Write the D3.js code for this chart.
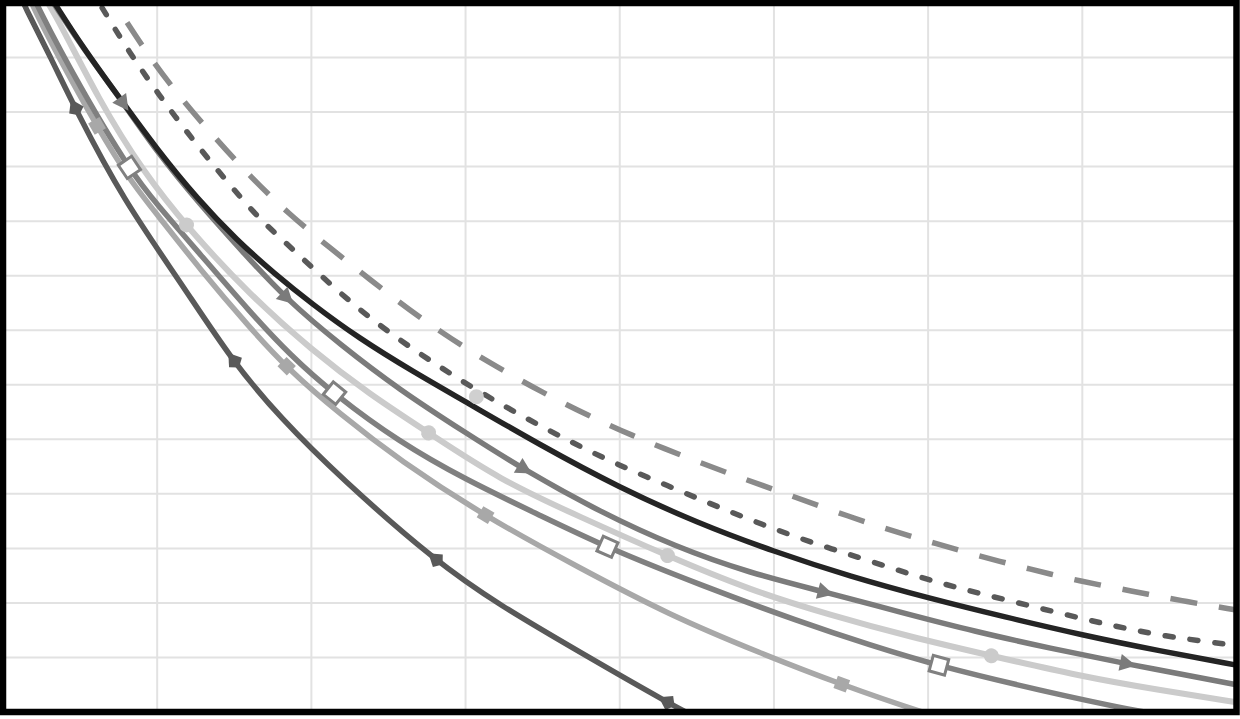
<!DOCTYPE html>
<html>
<head>
<meta charset="utf-8">
<script src="https://cdn.jsdelivr.net/npm/d3@7"></script>
<style>
  html, body { margin: 0; padding: 0; background: #fff; }
  svg { display: block; }
</style>
</head>
<body>
<div id="chart"></div>
<script>
// grid ticks (x: 0..8, y: 0..13)
const xTicks = [0, 1, 2, 3, 4, 5, 6, 7, 8];
const yTicks = [0, 1, 2, 3, 4, 5, 6, 7, 8, 9, 10, 11, 12, 13];

// series values, [x, y]
const longDash = [[0.63,13.39],[0.73,12.97],[0.95,12.0],[1.16,11.23],[1.38,10.51],[1.61,9.80],[1.85,9.14],[2.12,8.51],[2.38,7.93],[2.63,7.38],[2.91,6.83],[3.2,6.33],[3.49,5.87],[3.8,5.43],[4.07,5.08],[4.42,4.68],[4.73,4.35],[5.04,4.04],[5.36,3.71],[5.69,3.39],[6.01,3.12],[6.33,2.86],[6.66,2.62],[6.98,2.40],[7.32,2.22],[7.64,2.04],[8.0,1.87]];
const shortDash = [[0.56,13.30],[0.63,12.97],[0.82,12.09],[1.01,11.32],[1.22,10.53],[1.43,9.80],[1.65,9.08],[1.77,8.77],[2.02,8.11],[2.27,7.47],[2.54,6.88],[2.82,6.35],[3.1,5.85],[3.39,5.39],[3.69,4.94],[3.99,4.53],[4.31,4.15],[4.62,3.78],[4.93,3.43],[5.25,3.10],[5.58,2.81],[5.9,2.51],[6.21,2.26],[6.53,2.04],[6.87,1.80],[7.2,1.58],[7.53,1.39],[7.87,1.27],[8.0,1.21]];
const solidBlack = [[0.24,13.43],[0.34,12.97],[0.52,12.18],[0.74,11.32],[1.0,10.31],[1.26,9.41],[1.52,8.64],[1.76,8.04],[2.0,7.49],[2.31,6.85],[2.66,6.24],[3.0,5.69],[3.48,4.90],[4.0,4.11],[4.5,3.47],[5.0,2.94],[5.5,2.48],[6.0,2.09],[6.5,1.74],[7.0,1.41],[7.5,1.12],[8.0,0.86]];
const triangleLine = [[0.27,13.25],[0.5,12.24],[0.78,11.17],[1.0,10.26],[1.28,9.30],[1.54,8.48],[1.84,7.56],[2.19,6.73],[2.57,5.91],[3.0,5.12],[3.38,4.44],[3.87,3.67],[4.36,3.03],[4.84,2.55],[5.33,2.20],[5.82,1.83],[6.31,1.47],[6.79,1.17],[7.29,0.88],[8.0,0.50]];
const lightLine = [[0.21,13.34],[0.31,12.97],[0.63,11.17],[0.91,9.91],[1.19,8.90],[1.6,7.65],[2.0,6.64],[2.38,5.82],[2.76,5.12],[3.22,4.26],[3.74,3.58],[4.31,2.86],[4.84,2.24],[5.36,1.78],[5.88,1.38],[6.41,1.03],[6.98,0.66],[7.5,0.40],[8.0,0.18]];
const hollowSquareLine = [[0.14,13.49],[0.22,12.94],[0.5,11.45],[0.82,9.94],[1.0,9.30],[1.28,8.39],[1.6,7.34],[1.86,6.55],[2.15,5.82],[2.57,4.95],[3.0,4.26],[3.48,3.61],[3.92,3.01],[4.52,2.33],[5.17,1.65],[5.62,1.23],[6.07,0.84],[6.72,0.40],[7.37,0.0],[8.0,-0.29]];
const smallSquareLine = [[0.11,13.52],[0.19,12.94],[0.37,11.96],[0.61,10.73],[0.82,9.76],[1.0,9.12],[1.28,8.11],[1.6,7.05],[1.84,6.31],[2.19,5.45],[2.57,4.62],[3.13,3.58],[3.74,2.64],[4.32,1.78],[4.91,1.08],[5.44,0.50],[5.95,0.0],[6.46,-0.42]];
const diamondLine = [[0.08,13.34],[0.14,12.94],[0.31,12.0],[0.47,11.05],[0.78,9.39],[1.15,7.89],[1.49,6.42],[1.8,5.39],[2.19,4.29],[2.81,2.75],[3.22,1.96],[3.74,1.10],[4.31,0.17],[4.65,-0.33]];

// x positions of the markers on each line
const triangleMarks = [0.78, 1.84, 3.38, 5.33, 7.29];
const circleMarks = [1.19, 2.76, 4.31, 6.41];
const hollowSquareMarks = [0.82, 2.15, 3.92, 6.07];
const smallSquareMarks = [0.61, 1.84, 3.13, 5.44];
const diamondMarks = [0.47, 1.5, 2.81, 4.31];
const strayCircle = [[3.07, 5.78]];

const width = 1240, height = 719;
const plot = { left: 3, top: 3, right: 1236.5, bottom: 712 };

const x = d3.scaleLinear().domain([0, 8]).range([plot.left, plot.right]);
const y = d3.scaleLinear().domain([0, 13]).range([plot.bottom, plot.top]);

const svg = d3.select('#chart').append('svg')
  .attr('width', width)
  .attr('height', height);

svg.append('rect').attr('width', width).attr('height', height).attr('fill', '#fff');

svg.append('defs').append('clipPath').attr('id', 'plotClip')
  .append('rect')
  .attr('x', plot.left).attr('y', plot.top)
  .attr('width', plot.right - plot.left).attr('height', plot.bottom - plot.top);

// gridlines
const grid = svg.append('g').attr('stroke', '#e2e2e2').attr('stroke-width', 2);
grid.selectAll('line.v').data(xTicks.slice(1, -1)).join('line')
  .attr('class', 'v')
  .attr('x1', d => x(d)).attr('x2', d => x(d))
  .attr('y1', plot.top).attr('y2', plot.bottom);
grid.selectAll('line.h').data(yTicks.slice(1, -1)).join('line')
  .attr('class', 'h')
  .attr('x1', plot.left).attr('x2', plot.right)
  .attr('y1', d => y(d)).attr('y2', d => y(d));

const line = d3.line()
  .x(d => x(d[0]))
  .y(d => y(d[1]))
  .curve(d3.curveBasis);

const series = [
  { key: 'diamond', data: diamondLine, color: '#595959', w: 5.5 },
  { key: 'smallSquare', data: smallSquareLine, color: '#a8a8a8', w: 5.5 },
  { key: 'hollowSquare', data: hollowSquareLine, color: '#808080', w: 5.5 },
  { key: 'light', data: lightLine, color: '#cbcbcb', w: 6 },
  { key: 'triangle', data: triangleLine, color: '#7b7b7b', w: 5.5 },
  { key: 'black', data: solidBlack, color: '#242424', w: 5.5 },
  { key: 'shortDash', data: shortDash, color: '#595959', w: 5.5, dash: '8,17', cap: 'round' },
  { key: 'longDash', data: longDash, color: '#8a8a8a', w: 5.5, dash: '27,22' }
];

const lines = svg.append('g').attr('clip-path', 'url(#plotClip)');
const paths = {};
series.forEach(s => {
  paths[s.key] = lines.append('path')
    .datum(s.data)
    .attr('d', line)
    .attr('fill', 'none')
    .attr('stroke', s.color)
    .attr('stroke-width', s.w)
    .attr('stroke-dasharray', s.dash || null)
    .attr('stroke-linecap', s.cap || 'butt')
    .node();
});

// find the point of a drawn path at a given x, and its direction
function pointAtX(node, px) {
  const total = node.getTotalLength();
  let lo = 0, hi = total;
  for (let i = 0; i < 40; i++) {
    const mid = (lo + hi) / 2;
    if (node.getPointAtLength(mid).x < px) lo = mid; else hi = mid;
  }
  const p = node.getPointAtLength(lo);
  const a = node.getPointAtLength(Math.max(0, lo - 3));
  const b = node.getPointAtLength(Math.min(total, lo + 3));
  return { x: p.x, y: p.y, angle: Math.atan2(b.y - a.y, b.x - a.x) * 180 / Math.PI };
}

const marks = svg.append('g');
function addMarkers(key, xs, draw) {
  xs.forEach(v => {
    const p = pointAtX(paths[key], x(v));
    const g = marks.append('g').attr('transform', `translate(${p.x},${p.y}) rotate(${p.angle})`);
    draw(g);
  });
}

addMarkers('triangle', triangleMarks, g => g.append('path')
  .attr('d', 'M9,0L-7,-8.5L-7,8.5Z').attr('fill', '#7b7b7b'));
addMarkers('light', circleMarks, g => g.append('circle')
  .attr('r', 7.5).attr('fill', '#cbcbcb'));
addMarkers('hollowSquare', hollowSquareMarks, g => g.append('rect')
  .attr('x', -8).attr('y', -8).attr('width', 16).attr('height', 16)
  .attr('fill', '#fff').attr('stroke', '#808080').attr('stroke-width', 3));
addMarkers('smallSquare', smallSquareMarks, g => g.append('rect')
  .attr('x', -6.5).attr('y', -6.5).attr('width', 13).attr('height', 13)
  .attr('fill', '#a8a8a8'));
addMarkers('diamond', diamondMarks, g => g.append('path')
  .attr('d', 'M-10,0L2,-8L8,0L2,8Z').attr('fill', '#595959'));

marks.selectAll('circle.stray').data(strayCircle).join('circle')
  .attr('class', 'stray')
  .attr('cx', d => x(d[0])).attr('cy', d => y(d[1]))
  .attr('r', 7.5).attr('fill', '#d0d0d0');

// frame
svg.append('rect')
  .attr('x', plot.left).attr('y', plot.top)
  .attr('width', plot.right - plot.left).attr('height', plot.bottom - plot.top)
  .attr('fill', 'none')
  .attr('stroke', '#000')
  .attr('stroke-width', 6.5);
</script>
</body>
</html>
